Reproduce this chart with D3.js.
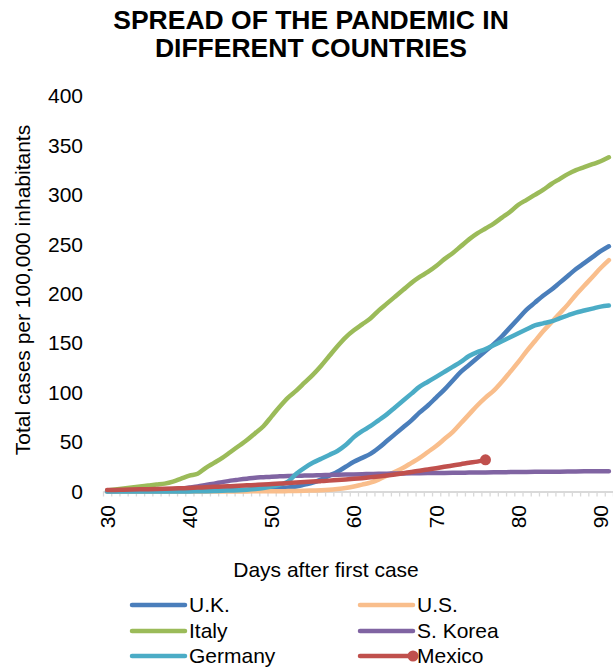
<!DOCTYPE html>
<html><head><meta charset="utf-8">
<script src="https://cdn.jsdelivr.net/npm/d3@7"></script>
<style>body{margin:0;background:#fff} text{font-family:"Liberation Sans",Arial,sans-serif;fill:#000}</style>
</head><body><svg id="c" width="613" height="668"></svg>
<script>
const days = [30,31,32,33,34,35,36,37,38,39,40,41,42,43,44,45,46,47,48,49,50,51,52,53,54,55,56,57,58,59,60,61,62,63,64,65,66,67,68,69,70,71,72,73,74,75,76,77,78,79,80,81,82,83,84,85,86,87,88,89,90,91];
const xTickLabels = [30,40,50,60,70,80,90];
const yTickLabels = [0,50,100,150,200,250,300,350,400];

const uk = [0,0,0,0,0,0,0.1,0.1,0.2,0.3,
 0.4,0.5,0.6,0.8,1,1.2,1.5,1.8,2.2,2.6,
 3,3.5,4,5,7,9,12,16,20,25,
 30,34,38,44,51,58,65,72,80,87,
 95,103,112,121,128,135,142,149,157,166,
 175,184,191,198,204,211,218,225,231,237,
 243,248];
const us = [0,0,0,0,0,0,0,0,0,0,
 0,0,0,0,0,0.1,0.1,0.1,0.2,0.2,
 0.3,0.3,0.4,0.5,0.7,1,1.3,1.8,2.6,3.6,
 5,7,9,12,16,20,24,29,34,40,
 46,53,60,69,78,87,95,102,111,121,
 131,142,152,162,171,180,189,199,208,217,
 226,234];
const italy = [1,2,3,4,5,6,7,8,10,13,
 16,18,24,29,34,40,46,52,59,66,
 76,86,95,102,110,118,127,137,147,156,
 163,169,175,183,190,197,204,211,217,222,
 228,235,241,248,255,261,266,271,277,283,
 290,295,300,305,311,316,321,325,328,331,
 334,338];
const korea = [0.5,0.6,0.7,0.8,1,1.1,1.3,1.6,2.2,3,
 4,5,6.5,8,9.5,11,12,13,14,14.5,
 15,15.3,15.6,15.9,16.1,16.3,16.5,16.7,16.9,17.1,
 17.3,17.5,17.7,17.9,18,18.2,18.3,18.4,18.5,18.6,
 18.7,18.8,18.9,19,19.1,19.2,19.3,19.4,19.5,19.6,
 19.7,19.8,19.9,20,20,20.1,20.2,20.3,20.4,20.5,
 20.5,20.6];
const germany = [0,0,0,0,0,0,0,0,0,0.1,
 0.1,0.2,0.3,0.5,0.7,1,1.3,1.8,2.5,3.5,
 5,7,10,18,24,29,33,37,41,47,
 55,61,66,72,78,85,92,99,106,111,
 116,121,126,131,137,141,144,148,152,156,
 160,164,168,170,172,175,178,181,183,185,
 187,188];
const mexico = [1.5,1.6,1.8,2,2.2,2.4,2.6,2.8,3,3.3,
 3.6,4,4.3,4.7,5,5.4,5.8,6.2,6.6,7,
 7.5,8,8.5,9,9.5,10,10.5,11,11.6,12.2,
 12.8,13.5,14.3,15.2,16.2,17.3,18.5,19.8,21,22.3,
 23.6,25,26.3,27.6,29,30.2,32];

const seriesNames = ["U.K.","U.S.","Italy","S. Korea","Germany","Mexico"];
const seriesValues = [uk, us, italy, korea, germany, mexico];
const seriesColors = ["#4A7EBB","#F9BE8C","#9BBB59","#8064A2","#4BACC6","#C0504D"];

const FS = "21px";
const svg = d3.select("#c");
const x = d3.scaleLinear().domain([29.5, 91.5]).range([103, 613]);
const y = d3.scaleLinear().domain([0, 400]).range([491.5, 96]);

// title
svg.append("text").attr("x", 311).attr("y", 29).attr("text-anchor","middle")
  .style("font-size","26.5px").style("font-weight","bold").text("SPREAD OF THE PANDEMIC IN");
svg.append("text").attr("x", 311).attr("y", 57).attr("text-anchor","middle")
  .style("font-size","26.5px").style("font-weight","bold").text("DIFFERENT COUNTRIES");

// y axis (labels only)
const yAxis = svg.append("g").attr("transform","translate(83,0)")
  .call(d3.axisLeft(y).tickValues(yTickLabels).tickSize(0).tickPadding(0));
yAxis.select(".domain").remove();
yAxis.selectAll("text").style("font-size",FS).style("font-family",'"Liberation Sans",Arial,sans-serif').attr("fill","#000");

// x axis line with minor ticks at category boundaries
const boundaries = days.map(d => d - 0.5).concat([days[days.length-1] + 0.5]);
const xAxis = svg.append("g").attr("transform", `translate(0,${y(0)})`)
  .call(d3.axisBottom(x).tickValues(boundaries).tickSize(5).tickSizeOuter(0).tickFormat(""));
xAxis.select(".domain").attr("stroke","#d9d9d9").attr("stroke-width",2);
xAxis.selectAll(".tick line").attr("stroke","#d9d9d9").attr("stroke-width",1.3);

// x tick labels rotated
svg.append("g").selectAll("text").data(xTickLabels).join("text")
  .attr("transform", d => `translate(${x(d)+7.5},505) rotate(-90)`)
  .attr("text-anchor","end")
  .style("font-size",FS).text(d => d);

// axis titles
svg.append("text").attr("transform","translate(30,290) rotate(-90)").attr("text-anchor","middle")
  .style("font-size",FS).text("Total cases per 100,000 inhabitants");
svg.append("text").attr("x",326).attr("y",577).attr("text-anchor","middle")
  .style("font-size",FS).text("Days after first case");

// lines
const line = d3.line().x((v,i) => x(days[i])).y(v => y(v)).curve(d3.curveMonotoneX);
const plot = svg.append("g");
seriesValues.forEach((vals, k) => {
  plot.append("path").datum(vals).attr("d", line)
    .attr("fill","none").attr("stroke", seriesColors[k]).attr("stroke-width",4.5)
    .attr("stroke-linejoin","round").attr("stroke-linecap","round");
});
// Mexico end marker
plot.append("circle").attr("cx", x(days[mexico.length-1])).attr("cy", y(mexico[mexico.length-1]))
  .attr("r",5.5).attr("fill", seriesColors[5]);

// legend
const legCols = [132, 360];
const legRows = [605, 631, 656];
const leg = svg.append("g");
seriesNames.forEach((name, k) => {
  const cx = legCols[k % 2], cy = legRows[Math.floor(k / 2)];
  leg.append("line").attr("x1", cx).attr("x2", cx + 53).attr("y1", cy).attr("y2", cy)
    .attr("stroke", seriesColors[k]).attr("stroke-width",4.5).attr("stroke-linecap","round");
  if (name === "Mexico") {
    leg.append("circle").attr("cx", cx + 53).attr("cy", cy).attr("r",5.5).attr("fill", seriesColors[k]);
  }
  leg.append("text").attr("x", cx + 57).attr("y", cy).attr("dy","0.35em")
    .style("font-size",FS).text(name);
});
</script></body></html>
